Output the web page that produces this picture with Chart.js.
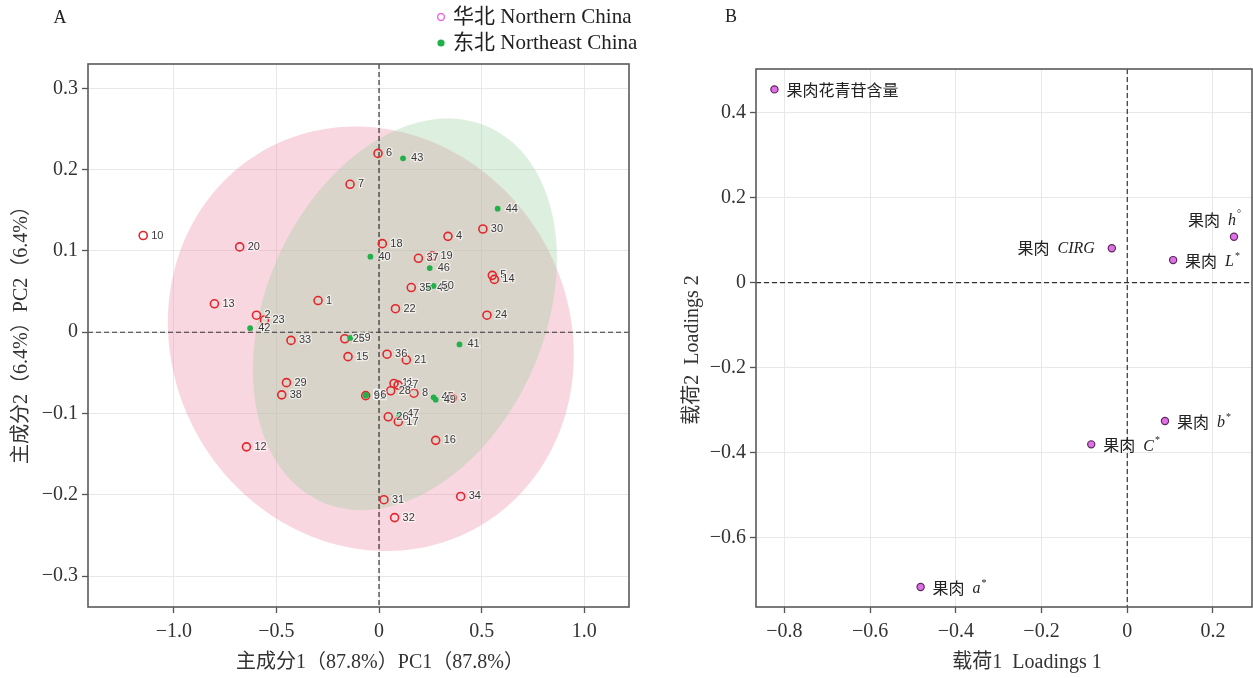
<!DOCTYPE html>
<html>
<head>
<meta charset="utf-8">
<script src="https://cdn.jsdelivr.net/npm/chart.js@4"></script>
<style>
body{margin:0;background:#fff}
#wrap{position:relative;width:1253px;height:678px;overflow:hidden}
#chartA{position:absolute;left:0;top:0}
#chartB{position:absolute;left:660px;top:0}
</style>
</head>
<body>
<div id="wrap">
<canvas id="chartA" width="660" height="678"></canvas>
<canvas id="chartB" width="593" height="678"></canvas>
</div>
<script>
// panel A: scores
const northLabels=['1','2','3','4','5','6','7','8','9','10','11','12','13','14','15','16','17','18','19','20','21','22','23','24','25','26','27','28','29','30','31','32','33','34','35','36','37','38']
const northPC1=[-0.297,-0.597,0.357,0.336,0.552,-0.005,-0.141,0.170,-0.065,-1.149,0.073,-0.646,-0.802,0.562,-0.151,0.276,0.094,0.016,0.260,-0.679,0.133,0.080,-0.558,0.526,-0.167,0.045,0.093,0.057,-0.451,0.506,0.024,0.076,-0.429,0.398,0.157,0.039,0.192,-0.474]
const northPC2=[0.039,0.021,-0.081,0.118,0.070,0.220,0.182,-0.075,-0.078,0.119,-0.063,-0.141,0.035,0.065,-0.030,-0.133,-0.110,0.109,0.094,0.105,-0.034,0.029,0.015,0.021,-0.008,-0.104,-0.065,-0.072,-0.062,0.127,-0.206,-0.228,-0.010,-0.202,0.055,-0.027,0.091,-0.077]

const northeastLabels=['39','40','41','42','43','44','45','46','47','48','49','50','51','56']
const northeastPC1=[-0.140,-0.042,0.392,-0.628,0.117,0.578,0.266,0.247,0.097,0.244,0.276,0.266,-0.065,-0.063]
const northeastPC2=[-0.007,0.093,-0.015,0.005,0.214,0.152,-0.080,0.079,-0.101,0.055,-0.083,0.057,-0.078,-0.077]

// ellipse: centre x, centre y, axis 1 (x,y), axis 2 (x,y)
const northEllipse=[-0.040,-0.008,0.988,-0.008,-0.045,0.261]
const northeastEllipse=[0.126,0.022,0.731,0.030,0.120,0.239]

const ticksA_x=[-1.0,-0.5,0,0.5,1.0]
const ticksA_y=[-0.3,-0.2,-0.1,0,0.1,0.2,0.3]

// panel B: loadings
const loadingCn=['果肉花青苷含量','果肉','果肉','果肉','果肉','果肉','果肉']
const loadingVar=['','h','CIRG','L','b','C','a']
const loadingSup=['','°','','*','*','*','*']
const loading1=[-0.823,0.249,-0.036,0.107,0.088,-0.084,-0.482]
const loading2=[0.455,0.108,0.081,0.053,-0.326,-0.381,-0.717]

const ticksB_x=[-0.8,-0.6,-0.4,-0.2,0,0.2]
const ticksB_y=[-0.6,-0.4,-0.2,0,0.2,0.4]

const SERIF='"Liberation Serif","Noto Sans CJK SC",serif'
const CJK='"Noto Sans CJK SC",sans-serif'

function fmt(v){
if(Math.abs(v)<1e-9) return '0'
return (v<0?'−':'')+Math.abs(v).toFixed(1)
}

function pts(xs,ys){
return xs.map((x,i)=>({x:x,y:ys[i]}))
}

function axis(min,max,tickList,fit,isX){
return {
type:'linear',min:min,max:max,
afterBuildTicks:s=>{s.ticks=tickList.map(v=>({value:v}))},
afterFit:s=>{
if(isX) s.height=fit; else s.width=fit
s.paddingLeft=0;s.paddingRight=0;s.paddingTop=0;s.paddingBottom=0
},
grid:{color:'#e8e8e8',lineWidth:1,tickColor:'#555',tickLength:6,tickWidth:1.3},
border:{display:false},
ticks:{font:{family:SERIF,size:20},color:'#333',padding:isX?7:4,autoSkip:false,maxRotation:0,callback:v=>fmt(v)}
}
}

function drawEllipse(ctx,xs,ys,e,fill){
ctx.beginPath()
for(let i=0;i<=180;i++){
let t=i/180*Math.PI*2
let x=e[0]+e[2]*Math.cos(t)+e[4]*Math.sin(t)
let y=e[1]+e[3]*Math.cos(t)+e[5]*Math.sin(t)
let px=xs.getPixelForValue(x),py=ys.getPixelForValue(y)
if(i==0) ctx.moveTo(px,py); else ctx.lineTo(px,py)
}
ctx.closePath()
ctx.fillStyle=fill
ctx.fill()
}

function zeroLines(chart){
const ctx=chart.ctx,a=chart.chartArea
const x0=chart.scales.x.getPixelForValue(0)
const y0=chart.scales.y.getPixelForValue(0)
ctx.save()
ctx.strokeStyle='#333'
ctx.lineWidth=1.2
ctx.setLineDash([5,3])
ctx.beginPath()
ctx.moveTo(x0,a.top);ctx.lineTo(x0,a.bottom)
ctx.moveTo(a.left,y0);ctx.lineTo(a.right,y0)
ctx.stroke()
ctx.restore()
}

function frame(chart){
const ctx=chart.ctx,a=chart.chartArea
ctx.save()
ctx.strokeStyle='#5a5a5a'
ctx.lineWidth=1.6
ctx.strokeRect(a.left,a.top,a.right-a.left,a.bottom-a.top)
ctx.restore()
}

function text(ctx,str,x,y,font,color,align,rot){
ctx.save()
ctx.translate(x,y)
if(rot) ctx.rotate(rot)
ctx.font=font
ctx.fillStyle=color
ctx.textAlign=align||'center'
ctx.textBaseline='middle'
ctx.fillText(str,0,0)
ctx.restore()
}

const scorePlugin={
id:'scorePlugin',
beforeDatasetsDraw(chart){
const ctx=chart.ctx,a=chart.chartArea
ctx.save()
ctx.beginPath()
ctx.rect(a.left,a.top,a.right-a.left,a.bottom-a.top)
ctx.clip()
drawEllipse(ctx,chart.scales.x,chart.scales.y,northEllipse,'rgba(238,141,166,0.35)')
drawEllipse(ctx,chart.scales.x,chart.scales.y,northeastEllipse,'rgba(158,209,161,0.35)')
ctx.restore()
zeroLines(chart)
},
afterDatasetsDraw(chart){
const ctx=chart.ctx
ctx.save()
ctx.font='11px "Liberation Sans",Arial,sans-serif'
ctx.textBaseline='middle'
ctx.textAlign='left'
chart.data.datasets.forEach((ds,i)=>{
const meta=chart.getDatasetMeta(i)
meta.data.forEach((el,j)=>{
ctx.lineWidth=2.5
ctx.strokeStyle='rgba(255,255,255,0.6)'
ctx.strokeText(ds.pointLabels[j],el.x+8,el.y)
ctx.fillStyle='#3a3a3a'
ctx.fillText(ds.pointLabels[j],el.x+8,el.y)
})
})
ctx.restore()
frame(chart)
},
afterDraw(chart){
const ctx=chart.ctx
text(ctx,'A',60,18,'18px '+SERIF,'#222')
// legend
ctx.save()
ctx.beginPath()
ctx.arc(441,17,3.4,0,Math.PI*2)
ctx.strokeStyle='#e86ee8'
ctx.lineWidth=1.5
ctx.stroke()
ctx.beginPath()
ctx.arc(441,43,3.6,0,Math.PI*2)
ctx.fillStyle='#1fb24a'
ctx.fill()
ctx.restore()
text(ctx,'华北 Northern China',453,17,'21px '+SERIF,'#222','left')
text(ctx,'东北 Northeast China',453,43,'21px '+SERIF,'#222','left')
text(ctx,'主成分1（87.8%）PC1（87.8%）',380,663,'20px '+SERIF,'#333')
text(ctx,'主成分2（6.4%）PC2（6.4%）',22,330,'20px '+SERIF,'#333','center',-Math.PI/2)
}
}

new Chart(document.getElementById('chartA'),{
type:'scatter',
data:{datasets:[
{label:'东北 Northeast China',data:pts(northeastPC1,northeastPC2),pointLabels:northeastLabels,order:1,
pointRadius:2.9,backgroundColor:'#22b04a',borderWidth:0},
{label:'华北 Northern China',data:pts(northPC1,northPC2),pointLabels:northLabels,order:2,
pointRadius:4,borderWidth:1.6,borderColor:'#e3262c',backgroundColor:'rgba(0,0,0,0)'}
]},
options:{
responsive:false,animation:false,events:[],
layout:{autoPadding:false,padding:{top:64,right:31,left:0,bottom:0}},
plugins:{legend:{display:false},tooltip:{enabled:false}},
scales:{
x:axis(-1.418,1.218,ticksA_x,71,true),
y:axis(-0.338,0.330,ticksA_y,88,false)
}
},
plugins:[scorePlugin]
})

const loadingPlugin={
id:'loadingPlugin',
beforeDatasetsDraw(chart){
zeroLines(chart)
},
afterDatasetsDraw(chart){
const ctx=chart.ctx
const place=chart.options.plugins.loadingPlugin.place
const meta=chart.getDatasetMeta(0)
meta.data.forEach((el,i)=>{
ctx.save()
ctx.textBaseline='middle'
ctx.font='16px '+CJK
let cn=loadingCn[i]
let cnW=ctx.measureText(cn).width
ctx.font='italic 16px "Liberation Serif",serif'
let v=loadingVar[i]
let vW=v?ctx.measureText(v).width:0
ctx.font='10px "Liberation Serif",serif'
let s=loadingSup[i]
let sW=s?ctx.measureText(s).width+1:0
let gap=v?8:0
let total=cnW+gap+vW+sW
let p=place[i]
let x,y
if(p=='left'){x=el.x-17-total;y=el.y}
else if(p=='above'){x=el.x+7-total;y=el.y-17}
else {x=el.x+12;y=el.y+1}
ctx.fillStyle='#222'
ctx.font='16px '+CJK
ctx.fillText(cn,x,y)
if(v){
ctx.font='italic 16px "Liberation Serif",serif'
ctx.fillText(v,x+cnW+gap,y+1)
}
if(s){
ctx.font='10px "Liberation Serif",serif'
ctx.fillText(s,x+cnW+gap+vW+1,y-5)
}
ctx.restore()
})
frame(chart)
},
afterDraw(chart){
const ctx=chart.ctx
text(ctx,'B',71,17,'18px '+SERIF,'#222')
text(ctx,'载荷1  Loadings 1',367,663,'20px '+SERIF,'#333')
text(ctx,'载荷2  Loadings 2',33,350,'20px '+SERIF,'#333','center',-Math.PI/2)
}
}

new Chart(document.getElementById('chartB'),{
type:'scatter',
data:{datasets:[
{label:'loadings',data:pts(loading1,loading2),
pointRadius:3.6,borderWidth:1.2,borderColor:'#5c2a5c',backgroundColor:'#e070e6'}
]},
options:{
responsive:false,animation:false,events:[],
layout:{autoPadding:false,padding:{top:69,right:1,left:0,bottom:0}},
plugins:{legend:{display:false},tooltip:{enabled:false},
loadingPlugin:{place:['right','above','left','right','right','right','right']}},
scales:{
x:axis(-0.866,0.291,ticksB_x,71,true),
y:axis(-0.764,0.503,ticksB_y,96,false)
}
},
plugins:[loadingPlugin]
})
</script>
</body>
</html>
